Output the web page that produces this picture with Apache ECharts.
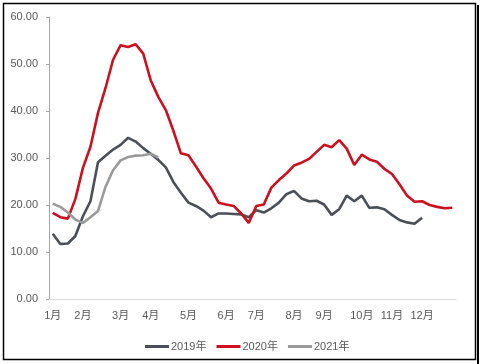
<!DOCTYPE html>
<html>
<head>
<meta charset="utf-8">
<script src="https://cdn.jsdelivr.net/npm/echarts@6/dist/echarts.min.js"></script>
<style>
html,body{margin:0;padding:0;background:#fff;}
#chart{width:480px;height:364px;}
</style>
</head>
<body>
<div id="chart"></div>
<script>
// Week index categories (54 weekly points)
var weeks = [];
for (var w = 1; w <= 54; w++) weeks.push(String(w));

// Month tick labels and the week index where each appears
var monthLabels = ['1月','2月','3月','4月','5月','6月','7月','8月','9月','10月','11月','12月'];
var monthWeekIndex = [0, 4, 9, 13, 18, 23, 27, 32, 36, 41, 45, 49];

var seriesNames = ['2019年', '2020年', '2021年'];

var data2019 = [13.9, 11.7, 11.8, 13.4, 17.6, 20.8, 29.1, 30.5, 31.8, 32.8, 34.3, 33.5, 32.1, 30.9, 29.6, 28.0,
  24.9, 22.6, 20.5, 19.8, 18.8, 17.4, 18.2, 18.2, 18.1, 18.0, 17.4, 18.9, 18.4, 19.3, 20.5, 22.3,
  23.0, 21.4, 20.8, 20.9, 20.1, 17.9, 19.1, 22.0, 20.8, 22.0, 19.4, 19.5, 19.1, 17.9, 16.8, 16.3,
  16.0, 17.3];

var data2020 = [18.3, 17.4, 17.1, 21.3, 27.9, 32.4, 39.6, 44.9, 50.9, 54.0, 53.6, 54.2, 52.2, 46.5, 43.0, 40.2,
  35.8, 31.0, 30.6, 28.2, 25.7, 23.5, 20.5, 20.1, 19.8, 18.2, 16.2, 19.8, 20.1, 23.7, 25.3, 26.7,
  28.4, 29.0, 29.8, 31.3, 32.8, 32.3, 33.8, 32.0, 28.5, 30.7, 29.7, 29.2, 27.7, 26.6, 24.4, 22.0,
  20.7, 20.8, 20.0, 19.6, 19.3, 19.4];

var data2021 = [20.3, 19.6, 18.4, 16.9, 16.2, 17.4, 18.7, 23.9, 27.4, 29.5, 30.2, 30.5, 30.6, 30.9, 30.1];

var chart = echarts.init(document.getElementById('chart'), null, {renderer: 'canvas'});

var fontFamily = '"Liberation Sans", Arial, "Noto Sans CJK SC", sans-serif';

chart.setOption({
  animation: false,
  backgroundColor: '#ffffff',
  grid: {left: 49, right: 24, top: 17, bottom: 65, containLabel: false},
  legend: {
    data: seriesNames,
    left: 140,
    top: 336,
    itemWidth: 24,
    itemHeight: 3,
    itemGap: 10,
    icon: 'rect',
    textStyle: {color: '#595959', fontSize: 11, fontFamily: fontFamily, padding: [0, 0, 0, -3]}
  },
  xAxis: {
    type: 'category',
    data: weeks,
    boundaryGap: true,
    axisLine: {show: true, lineStyle: {color: '#d9d9d9', width: 1}},
    axisTick: {show: false},
    axisLabel: {
      interval: function (idx) { return monthWeekIndex.indexOf(idx) >= 0; },
      formatter: function (val, idx) {
        var k = monthWeekIndex.indexOf(idx);
        return k >= 0 ? monthLabels[k] : '';
      },
      color: '#595959',
      fontSize: 11,
      fontFamily: fontFamily,
      margin: 11
    },
    splitLine: {show: false}
  },
  yAxis: {
    type: 'value',
    min: 0,
    max: 60,
    interval: 10,
    axisLine: {show: true, lineStyle: {color: '#a6a6a6', width: 1}},
    axisTick: {show: true, length: 3, lineStyle: {color: '#a6a6a6'}},
    axisLabel: {
      formatter: function (v) { return v.toFixed(2); },
      color: '#595959',
      fontSize: 11,
      fontFamily: fontFamily,
      margin: 11
    },
    splitLine: {show: false}
  },
  series: [
    {name: seriesNames[0], type: 'line', data: data2019, symbol: 'none',
     lineStyle: {color: '#4b4f58', width: 2.6}, itemStyle: {color: '#4b4f58'}, z: 2},
    {name: seriesNames[1], type: 'line', data: data2020, symbol: 'none',
     lineStyle: {color: '#cc1020', width: 2.6}, itemStyle: {color: '#cc1020'}, z: 3},
    {name: seriesNames[2], type: 'line', data: data2021, symbol: 'none',
     lineStyle: {color: '#9a9a9a', width: 2.6}, itemStyle: {color: '#9a9a9a'}, z: 4}
  ],
  graphic: [
    {type: 'rect', shape: {x: 3.5, y: 3.5, width: 472, height: 356},
     style: {fill: null, stroke: '#000', lineWidth: 1.5}, silent: true},
    {type: 'line', shape: {x1: 478, y1: 5, x2: 478, y2: 364},
     style: {stroke: '#000', lineWidth: 2}, silent: true}
  ]
});
</script>
</body>
</html>
